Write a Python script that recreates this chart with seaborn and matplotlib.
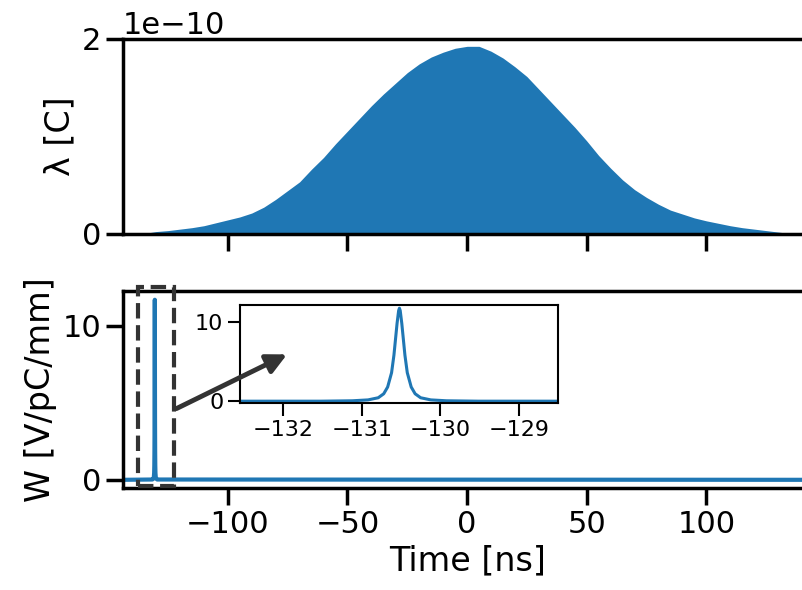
import numpy as np
import pandas as pd
import matplotlib
matplotlib.use("Agg")
import matplotlib.pyplot as plt
import seaborn as sns
from matplotlib.patches import Rectangle, FancyArrowPatch

# line charge density of the bunch, read every 5 ns (units of C)
bunch_time = list(range(-135, 140, 5))
bunch_charge = [
    0.0, 0.02, 0.03, 0.045, 0.06, 0.08, 0.11, 0.14, 0.17, 0.21,
    0.27, 0.35, 0.44, 0.53, 0.66, 0.78, 0.92, 1.05, 1.18, 1.31,
    1.43, 1.54, 1.65, 1.74, 1.81, 1.86, 1.90, 1.92, 1.92, 1.87,
    1.80, 1.71, 1.61, 1.48, 1.35, 1.22, 1.09, 0.95, 0.80, 0.67,
    0.55, 0.45, 0.37, 0.30, 0.24, 0.20, 0.16, 0.13, 0.105, 0.08,
    0.06, 0.045, 0.03, 0.015, 0.0,
]
bunch_scale = 1e-10

# wake potential [V/pC/mm], spike near -130.5 ns
wake_time = [
    -143.8, -131.52, -131.12, -130.92, -130.79, -130.72, -130.67, -130.62,
    -130.59, -130.57, -130.55, -130.53, -130.52, -130.51, -130.49, -130.47,
    -130.45, -130.42, -130.37, -130.32, -130.25, -130.12, -129.92, -129.52,
    143.8,
]
wake_value = [
    0.0, 0.02, 0.07, 0.18, 0.45, 0.95, 1.8, 3.6,
    5.8, 7.8, 9.8, 11.4, 11.7, 11.4, 9.8, 7.8,
    5.8, 3.6, 1.8, 0.95, 0.45, 0.18, 0.07, 0.02,
    0.0,
]

x_ticks = [-100, -50, 0, 50, 100]
inset_ticks = [-132, -131, -130, -129]
blue = "#1f77b4"

sns.set_theme(context="poster", style="ticks")
plt.rcParams["font.family"] = ["DejaVu Sans"]
plt.rcParams.update({"text.color": "black", "axes.labelcolor": "black",
                     "axes.edgecolor": "black", "xtick.color": "black",
                     "ytick.color": "black"})

bunch = pd.DataFrame({"t": bunch_time,
                      "q": np.array(bunch_charge) * bunch_scale})
wake = pd.DataFrame({"t": wake_time, "w": wake_value})

fig = plt.figure(figsize=(8.02, 5.9), dpi=100)
ax1 = fig.add_axes([0.1534, 0.6042, 0.858, 0.3305])
ax2 = fig.add_axes([0.1534, 0.1724, 0.858, 0.3344], sharex=ax1)

# top panel: bunch profile
sns.histplot(data=bunch, x="t", weights="q", binwidth=5,
             binrange=(-137.5, 137.5), element="poly", fill=True,
             color=blue, alpha=1, linewidth=0, ax=ax1)
ax1.set_ylim(0, 2e-10)
ax1.set_yticks([0, 2e-10])
ax1.set_ylabel("λ [C]")
ax1.set_xlabel("")
ax1.tick_params(axis="x", labelbottom=False)

# bottom panel: wake
sns.lineplot(data=wake, x="t", y="w", color=blue, ax=ax2)
ax2.set_xlim(-143.8, 143.8)
ax2.set_ylim(-0.55, 12.27)
ax2.set_xticks(x_ticks)
ax2.set_yticks([0, 10])
ax2.set_xlabel("Time [ns]")
ax2.set_ylabel("W [V/pC/mm]")

box = Rectangle((-137.7, -0.43), 15.2, 12.98, fill=False, ls="--", lw=3,
                edgecolor="0.2", clip_on=False, zorder=4)
ax2.add_patch(box)

# inset zoom on the spike
axins = fig.add_axes([0.2993, 0.3164, 0.3965, 0.1666])
sns.lineplot(data=wake, x="t", y="w", color=blue, lw=2.2, ax=axins)
axins.set_xlim(-132.55, -128.5)
axins.set_ylim(-0.25, 12.1)
axins.set_xticks(inset_ticks)
axins.set_yticks([0, 10])
axins.set_xlabel("")
axins.set_ylabel("")
axins.tick_params(labelsize=16, length=9, width=1.5, pad=3)
for s in axins.spines.values():
    s.set_linewidth(1.5)

arrow = FancyArrowPatch((-122.5, 4.55), (-74.2, 8.23), transform=ax2.transData,
                        arrowstyle="-|>", mutation_scale=30, lw=3.5,
                        color="0.2", zorder=10)
fig.add_artist(arrow)

fig.savefig("out.png", dpi=100)
plt.close(fig)
